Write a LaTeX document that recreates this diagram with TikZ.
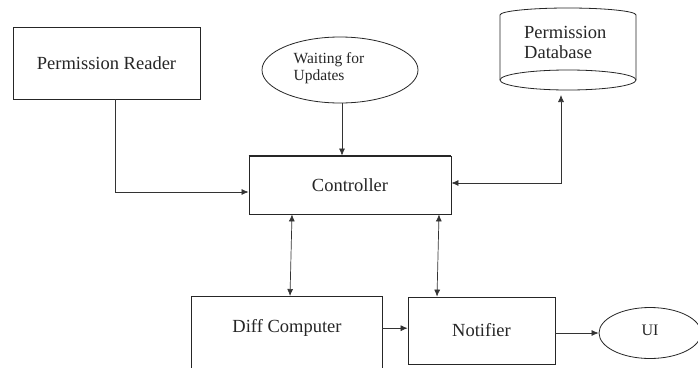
\documentclass[tikz,border=0pt]{standalone}
\usepackage{fontspec}
\setmainfont{Liberation Serif}
\usetikzlibrary{shapes.geometric,arrows.meta}

\definecolor{ink}{HTML}{262626}
\definecolor{wire}{HTML}{333333}

\tikzset{
  boxline/.style={draw=ink, line width=0.8pt},
  block/.style={rectangle, boxline, inner sep=0pt, font=\fontsize{18.5}{20}\selectfont, text=ink},
  oval/.style={ellipse, boxline, inner sep=0pt},
  label/.style={inner sep=0pt, text=ink},
  tip/.style={Latex[length=7pt,width=6pt]},
  wirearrow/.style={draw=wire, line width=0.7pt, -{Latex[length=7pt,width=6pt]}},
  bothwire/.style={draw=wire, line width=0.7pt, {Latex[length=7pt,width=6pt]}-{Latex[length=7pt,width=6pt]}},
}

\begin{document}
\begin{tikzpicture}[x=1pt, y=-1pt]
  \clip (0,0) rectangle (698,367);
  \fill[white] (0,0) rectangle (698,367);

  % blocks
  \node[block, minimum width=187pt, minimum height=72pt] (reader) at (106.5,63) {Permission Reader};
  \node[block, minimum width=202pt, minimum height=58pt] (ctrl) at (350,185) {\raisebox{-5pt}{Controller}};
  \draw[draw=ink, line width=1.6pt] (ctrl.north west) -- (ctrl.north east);
  \node[block, minimum width=147pt, minimum height=67pt] (notif) at (481.5,330.5) {Notifier};

  % open-bottom block running past the lower edge
  \node[label, font=\fontsize{18.5}{20}\selectfont, minimum width=190pt, minimum height=64pt, anchor=north] (diff) at (287,296) {Diff Computer};
  \draw[boxline] ([yshift=-20pt]diff.south west) -- (diff.north west) -- (diff.north east) -- ([yshift=-20pt]diff.south east);

  % ovals
  \node[oval, minimum width=156pt, minimum height=66pt] (wait) at (340,70) {};
  \node[label, align=left, font=\fontsize{15.5}{17}\selectfont] (waittext) at (329,68) {Waiting for\\Updates};
  \node[oval, minimum width=102pt, minimum height=51pt, font=\fontsize{16}{18}\selectfont, text=ink] (ui) at (650,333) {\raisebox{5pt}{UI}};

  % database drum: arched top, full ellipse at the base
  \coordinate (dbbase) at (568,80);
  \draw[boxline] (500,80) -- (500,15) arc[start angle=180, end angle=0, x radius=68pt, y radius=7pt]
                 -- (636,80);
  \draw[boxline] (dbbase) ellipse[x radius=68pt, y radius=10pt];
  \node[label, align=left, font=\fontsize{18.5}{20}\selectfont, anchor=west] (db) at (524,42) {Permission\\Database};
  \coordinate (dbfoot) at (561,95);

  % connectors
  \draw[wirearrow] ([xshift=8.5pt]reader.south) |- ([yshift=-7pt]ctrl.west);
  \draw[wirearrow] ([xshift=2pt]wait.south) -- ([xshift=2pt]wait.south |- ctrl.north);
  \draw[bothwire] (dbfoot) |- ([yshift=2pt]ctrl.east);
  \draw[bothwire] ([xshift=-58pt]ctrl.south) -- ([xshift=3pt]diff.north);
  \draw[bothwire] ([xshift=89pt]ctrl.south) -- ([xshift=-44.5pt]notif.north);
  \draw[wirearrow] (diff.east) -- (diff.east -| notif.west);
  \draw[wirearrow] ([yshift=-2.5pt]notif.east) -- (ui.west);
\end{tikzpicture}
\end{document}
